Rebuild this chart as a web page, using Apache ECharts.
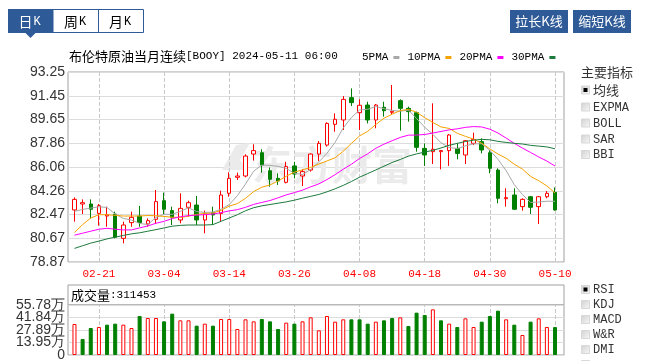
<!DOCTYPE html>
<html>
<head>
<meta charset="utf-8">
<script src="https://cdn.jsdelivr.net/npm/echarts/dist/echarts.min.js"></script>
<style>
html,body{margin:0;padding:0;background:#fff;}
#chart{width:651px;height:361px;}
</style>
</head>
<body>
<div id="chart"></div>
<script>
// ---------------- data ----------------
const dates = ['02-16','02-19','02-20','02-21','02-22','02-23','02-26','02-27','02-28','02-29',
  '03-01','03-04','03-05','03-06','03-07','03-08','03-11','03-12','03-13','03-14',
  '03-15','03-18','03-19','03-20','03-21','03-22','03-25','03-26','03-27','03-28',
  '04-01','04-02','04-03','04-04','04-05','04-08','04-09','04-10','04-11','04-12',
  '04-15','04-16','04-17','04-18','04-19','04-22','04-23','04-24','04-25','04-26',
  '04-29','04-30','05-01','05-02','05-03','05-06','05-07','05-08','05-09','05-10'];

const openP = [82.81,83.26,83.26,82.55,82.35,82.50,80.66,81.85,82.35,81.75,
  82.10,83.51,82.76,82.05,83.01,83.18,82.05,82.60,82.55,84.07,
  85.28,85.38,87.04,87.14,85.78,85.20,84.90,86.14,85.38,85.83,
  87.04,87.72,89.29,89.62,91.31,90.17,90.75,89.62,90.58,90.20,
  91.08,90.50,90.17,87.47,87.22,87.22,87.30,87.47,86.97,87.85,
  87.98,87.14,85.83,83.66,83.94,83.06,83.81,83.06,83.81,84.14];
const closeP = [83.61,83.36,82.86,83.13,82.43,80.74,81.67,82.25,81.85,82.00,
  83.44,82.86,82.25,82.93,83.36,82.05,82.50,82.43,83.94,85.20,
  85.38,86.89,87.30,86.21,85.13,85.00,86.09,85.53,85.71,87.04,
  87.85,89.36,89.67,91.18,90.93,90.73,89.62,90.75,90.32,90.28,
  90.50,90.25,87.55,86.97,87.40,87.30,88.48,87.09,88.05,88.15,
  87.35,85.96,83.69,83.74,82.86,83.61,83.01,83.81,84.07,82.81];
const lowP = [81.92,82.50,82.17,81.62,81.54,80.66,80.28,81.54,81.54,81.54,
  81.75,82.50,81.67,81.80,82.30,81.67,81.04,81.67,81.92,83.81,
  85.08,85.28,86.54,85.63,84.57,84.70,84.82,85.20,84.62,85.71,
  86.51,87.60,88.73,88.86,90.68,88.86,89.36,88.99,89.87,90.00,
  88.81,89.49,87.22,86.14,86.29,85.88,86.14,86.64,86.29,87.72,
  87.09,85.58,83.31,83.06,82.81,82.76,82.50,81.75,83.69,82.76];
const highP = [83.76,83.61,83.61,83.26,83.06,82.68,81.92,82.68,83.11,82.17,
  84.32,84.12,83.06,84.07,83.51,83.87,82.76,83.06,84.27,85.66,
  85.63,87.02,87.78,87.40,86.03,85.58,86.46,86.46,85.88,87.09,
  88.03,89.44,90.12,91.43,92.01,91.18,91.00,90.83,91.00,92.27,
  91.18,90.63,90.25,87.85,90.88,87.35,88.56,87.85,88.10,88.66,
  88.23,87.35,85.96,84.45,84.45,83.69,83.87,83.87,84.24,84.52];
const volume = [345800,178500,301200,312400,338400,349600,338400,301200,435100,412800,
  412800,375600,461100,386700,386700,327200,349600,327200,401600,401600,
  290100,397900,375600,401600,375600,290100,360700,349600,375600,420200,
  275200,435100,371900,397900,397900,397900,349600,371900,386700,412800,
  420200,323500,472300,446200,509500,386700,349600,312400,409000,312400,
  371900,435100,494600,397900,338400,223100,371900,409000,312400,311453];

const ma5 = [82.70,82.85,82.95,83.05,83.00,82.50,82.17,82.04,81.79,81.70,
  82.24,82.48,82.48,82.70,82.97,82.69,82.62,82.65,82.86,83.22,
  83.89,84.77,85.74,86.20,86.18,86.11,85.95,85.59,85.49,85.87,
  86.44,87.10,87.93,89.02,89.80,90.37,90.43,90.64,90.47,90.34,
  90.28,90.37,89.73,89.07,88.53,87.89,87.54,87.45,87.66,87.81,
  87.82,87.32,86.64,85.78,84.72,83.97,83.38,83.41,83.47,83.46];
const ma10 = [81.10,81.70,82.20,82.45,82.45,82.40,82.35,82.35,82.35,82.39,
  82.37,82.32,82.26,82.24,82.34,82.47,82.55,82.57,82.78,83.10,
  83.29,83.69,84.20,84.53,84.70,85.00,85.36,85.67,85.84,86.03,
  86.28,86.52,86.76,87.26,87.84,88.41,88.76,89.28,89.75,90.06,
  90.33,90.42,90.21,89.79,89.43,89.09,88.98,88.61,88.38,88.17,
  87.86,87.43,87.04,86.72,86.27,85.90,85.35,85.02,84.63,84.09];
const ma20 = [80.90,81.05,81.20,81.35,81.42,81.35,81.30,81.30,81.45,81.60,
  81.80,81.95,82.15,82.30,82.38,82.42,82.45,82.50,82.60,82.74,
  82.83,83.01,83.23,83.38,83.52,83.73,83.95,84.12,84.31,84.56,
  84.78,85.11,85.48,85.89,86.27,86.70,87.06,87.48,87.79,88.05,
  88.30,88.47,88.48,88.52,88.63,88.75,88.87,88.95,89.06,89.12,
  89.09,88.92,88.63,88.25,87.85,87.49,87.16,86.82,86.51,86.13];
const ma30 = [79.90,80.10,80.30,80.45,80.62,80.75,80.88,81.00,81.08,81.20,
  81.32,81.45,81.58,81.64,81.67,81.67,81.67,81.70,81.95,82.20,
  82.45,82.75,82.98,83.12,83.22,83.32,83.42,83.55,83.70,83.84,
  83.98,84.18,84.41,84.67,84.96,85.29,85.56,85.84,86.12,86.40,
  86.63,86.88,87.05,87.19,87.32,87.50,87.70,87.85,87.99,88.09,
  88.15,88.12,88.00,87.92,87.85,87.80,87.70,87.64,87.58,87.44];

const xTickLabels = ['02-21','03-04','03-14','03-26','04-08','04-18','04-30','05-10'];
const priceTickLabels = ['78.87','80.67','82.47','84.26','86.06','87.86','89.65','91.45','93.25'];
const volTickLabels = ['0','13.95万','27.89万','41.84万','55.78万'];
const lastVolumeText = '311453';
const titleName = '布伦特原油当月连续';
const titleCode = '[BOOY] 2024-05-11 06:00';
const maNames = ['5PMA','10PMA','20PMA','30PMA'];
const mainIndicators = ['均线','EXPMA','BOLL','SAR','BBI'];
const subIndicators = ['RSI','KDJ','MACD','W&R','DMI'];

// ---------------- styles ----------------
const RED = '#ff0000', GREEN = '#008000', BLUE = '#2e5a97';
const maColors = ['#a8a8a8','#f5a300','#ff00ff','#1c7a3c'];
const CJK = '"Noto Sans CJK SC"';
const MONO = '"Liberation Mono"';

const candleData = openP.map((o,i)=>[o, closeP[i], lowP[i], highP[i]]);
const volData = volume.map((v,i)=>{
  const up = i === 0 ? true : closeP[i] >= closeP[i-1];
  return {value: v, itemStyle: up ? {color:'#fff', borderColor:RED, borderWidth:1} : {color:GREEN, borderColor:GREEN, borderWidth:1}};
});
const vLines = {
  silent:true, symbol:['none','none'], label:{show:false}, z:1, animation:false,
  lineStyle:{type:'dashed', color:'#c8c8c8', width:1},
  emphasis:{disabled:true},
  data: xTickLabels.map(d=>({xAxis:d}))
};

// ---------------- decoration (UI) ----------------
const graphics = [];
graphics.push({type:'rect', shape:{x:8.5,y:9.5,width:135,height:23}, style:{fill:'#fff', stroke:BLUE, lineWidth:1}});
graphics.push({type:'rect', shape:{x:8,y:9,width:45.5,height:24}, style:{fill:BLUE}});
graphics.push({type:'line', shape:{x1:98.5,y1:9.5,x2:98.5,y2:32.5}, style:{stroke:BLUE, lineWidth:1}});
graphics.push({type:'polygon', shape:{points:[[25.5,33],[35.5,33],[30.5,38]]}, style:{fill:BLUE}});
[['日',30.5,'#fff'],['周',76,'#000'],['月',121,'#000']].forEach(t=>{
  graphics.push({type:'text', x:t[1]-5, y:21.5, style:{text:t[0], align:'center', verticalAlign:'middle', fill:t[2], fontSize:14, fontFamily:CJK}});
  graphics.push({type:'text', x:t[1]+3, y:22, style:{text:'K', align:'left', verticalAlign:'middle', fill:t[2], fontSize:12, fontFamily:MONO}});
});
[['拉长K线',510],['缩短K线',573]].forEach(b=>{
  graphics.push({type:'rect', shape:{x:b[1],y:10,width:58,height:23}, style:{fill:BLUE}});
  graphics.push({type:'text', x:b[1]+29, y:21.5, style:{text:b[0], align:'center', verticalAlign:'middle', fill:'#fff', fontSize:13, fontFamily:CJK}});
});
// watermark
graphics.push({type:'text', x:252, y:165, z:1, style:{text:'东方财富', align:'left', verticalAlign:'middle', fill:'#ebebeb', fontSize:40, fontWeight:'bold', fontFamily:CJK}});
graphics.push({type:'polygon', z:1, shape:{points:[[222,170],[236,145],[250,143],[240,160],[248,170]]}, style:{fill:'#ebebeb'}});
// right panel
graphics.push({type:'text', x:581, y:72, style:{text:'主要指标', verticalAlign:'middle', fill:'#333', fontSize:13, fontFamily:CJK}});
function checkbox(label, cy, checked){
  graphics.push({type:'rect', shape:{x:581.5,y:cy-4.5,width:8,height:8}, style:{fill:new echarts.graphic.LinearGradient(0,0,1,1,[{offset:0,color:'#cfcfcf'},{offset:1,color:'#fafafa'}]), stroke:'#d8d8d8', lineWidth:1}});
  if (checked) graphics.push({type:'rect', shape:{x:583.5,y:cy-2.5,width:4,height:4}, style:{fill:'#000'}});
  const isCJK = /[\u4e00-\u9fff]/.test(label);
  graphics.push({type:'text', x:593, y:cy, style:{text:label, verticalAlign:'middle', fill:'#333', fontSize:isCJK?13:12, fontFamily:isCJK?CJK:MONO}});
}
const mainY = [90.5,107.5,123.5,139.5,155];
mainIndicators.forEach((l,i)=>checkbox(l, mainY[i], i===0));
const subY = [290,305,320,335,350];
subIndicators.forEach((l,i)=>checkbox(l, subY[i], i===0));
graphics.push({type:'rect', shape:{x:581.5,y:360.5,width:8,height:8}, style:{fill:'#e8e8e8', stroke:'#d8d8d8'}});

// ---------------- chart ----------------
const chart = echarts.init(document.getElementById('chart'), null, {renderer:'canvas'});
const lbl = {fontSize:14, fontFamily:'"Liberation Sans"', color:'#333'};
const richTitle = {c:{fontSize:13, fontFamily:CJK, color:'#000', fontWeight:'normal'}, a:{fontSize:11, fontFamily:MONO, color:'#000', fontWeight:'normal'}};
const option = {
  animation:false,
  backgroundColor:'#fff',
  title:[
    {text:'{c|'+titleName+'}{a|'+titleCode+'}', left:69, top:50, padding:0, textStyle:{fontWeight:'normal', rich:richTitle}},
    {text:'{c|成交量}{a|:'+lastVolumeText+'}', left:71, top:288.5, padding:0, textStyle:{fontWeight:'normal', rich:richTitle}}
  ],
  legend:{data:maNames, left:362, top:52, padding:0, icon:'rect', itemWidth:6, itemHeight:3, itemGap:8, align:'right',
    selectedMode:false, textStyle:{fontSize:11, fontFamily:MONO, color:'#000'}},
  grid:[
    {left:68, top:72, width:496, height:190, show:true, borderColor:'#a0a0a0', borderWidth:1, outerBoundsMode:'none'},
    {left:70.4, top:72, width:488.7, height:190, outerBoundsMode:'none'},
    {left:68, top:285, width:496, height:20, show:true, borderColor:'#a0a0a0', borderWidth:1, outerBoundsMode:'none'},
    {left:68, top:305, width:496, height:50, show:true, borderColor:'#a0a0a0', borderWidth:1, outerBoundsMode:'none'},
    {left:70.4, top:305, width:488.7, height:50, outerBoundsMode:'none'}
  ],
  xAxis:[
    {gridIndex:0, type:'value', min:0, max:1, show:false},
    {gridIndex:1, type:'category', data:dates, boundaryGap:true,
     axisLine:{show:false}, axisTick:{show:false}, splitLine:{show:false},
     axisLabel:{interval:(i)=>xTickLabels.indexOf(dates[i])>=0, color:RED, fontSize:11, fontFamily:MONO, margin:7, hideOverlap:false}},
    {gridIndex:2, type:'value', min:0, max:1, show:false},
    {gridIndex:3, type:'value', min:0, max:1, show:false},
    {gridIndex:4, type:'category', data:dates, boundaryGap:true, show:false}
  ],
  yAxis:[
    {gridIndex:0, type:'category', data:priceTickLabels, boundaryGap:false,
     axisLine:{show:false}, axisTick:{show:false},
     axisLabel:Object.assign({interval:0, margin:3, hideOverlap:false}, lbl),
     splitLine:{show:true, interval:0, lineStyle:{color:'#dcdcdc', width:1}}},
    {gridIndex:1, type:'value', min:78.87, max:93.25, show:false},
    {gridIndex:2, type:'value', min:0, max:1, show:false},
    {gridIndex:3, type:'category', data:volTickLabels, boundaryGap:false,
     axisLine:{show:false}, axisTick:{show:false},
     axisLabel:Object.assign({interval:0, margin:3, hideOverlap:false, padding:[0,0,6,0]}, lbl),
     splitLine:{show:true, interval:0, lineStyle:{color:'#dcdcdc', width:1}}},
    {gridIndex:4, type:'value', min:0, max:557800, show:false}
  ],
  series:[
    {type:'candlestick', name:'K', xAxisIndex:1, yAxisIndex:1, data:candleData, barWidth:4, z:2,
     itemStyle:{color:'#fff', color0:GREEN, borderColor:RED, borderColor0:GREEN, borderWidth:1},
     markLine:vLines},
    {type:'line', name:maNames[0], xAxisIndex:1, yAxisIndex:1, data:ma5, symbol:'none', z:3, lineStyle:{width:1,color:maColors[0]}, itemStyle:{color:maColors[0]}},
    {type:'line', name:maNames[1], xAxisIndex:1, yAxisIndex:1, data:ma10, symbol:'none', z:3, lineStyle:{width:1,color:maColors[1]}, itemStyle:{color:maColors[1]}},
    {type:'line', name:maNames[2], xAxisIndex:1, yAxisIndex:1, data:ma20, symbol:'none', z:3, lineStyle:{width:1,color:maColors[2]}, itemStyle:{color:maColors[2]}},
    {type:'line', name:maNames[3], xAxisIndex:1, yAxisIndex:1, data:ma30, symbol:'none', z:3, lineStyle:{width:1,color:maColors[3]}, itemStyle:{color:maColors[3]}},
    {type:'bar', name:'VOL', xAxisIndex:4, yAxisIndex:4, data:volData, barWidth:4, z:2, markLine:vLines}
  ],
  graphic:graphics
};
chart.setOption(option);
</script>
</body>
</html>
